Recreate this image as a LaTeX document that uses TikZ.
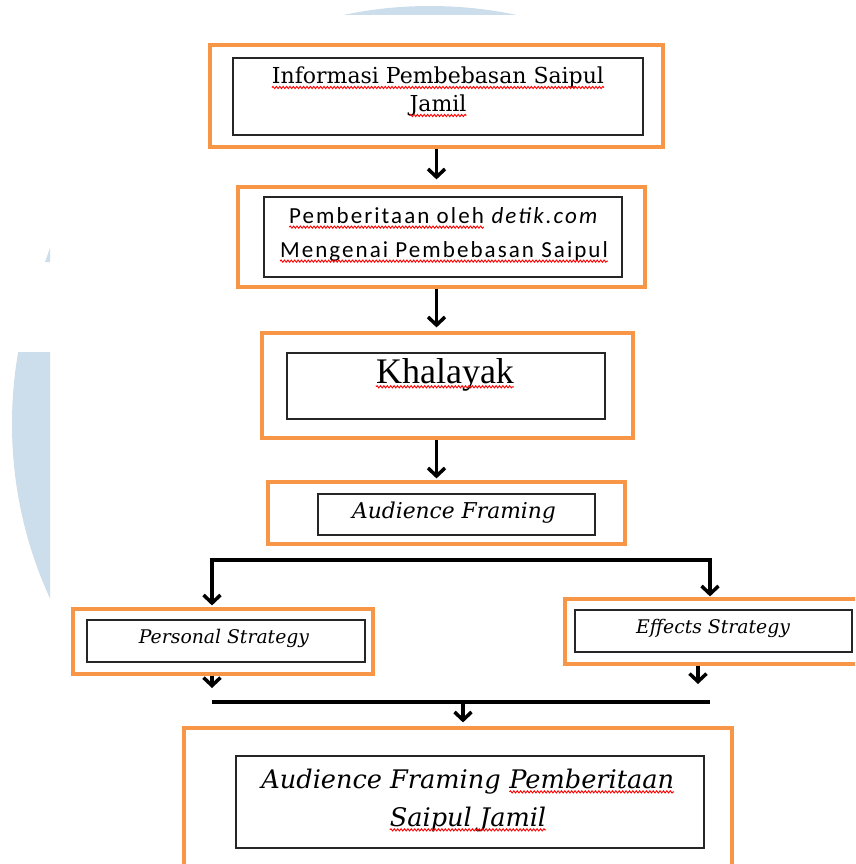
\documentclass[tikz,border=0pt]{standalone}
\usepackage{fontspec}
\usetikzlibrary{arrows.meta,decorations.pathmorphing}
\newfontfamily\camb{DejaVu Serif}
\newfontfamily\tms{Liberation Serif}
\newfontfamily\calib[LetterSpace=9]{Carlito}
\definecolor{orng}{HTML}{F79646}
\definecolor{wmark}{HTML}{CCDDEC}
\newcommand\rwave[1]{\tikz[baseline=(w.base)]{\node[inner sep=0pt,outer sep=0pt,draw=none](w){#1};
  \draw[red,line width=0.9pt,decorate,decoration={snake,amplitude=1.1pt,segment length=3.4pt}]
   ([yshift=-3.8pt]w.base west) -- ([yshift=-3.8pt]w.base east);}}
\begin{document}
\begin{tikzpicture}[x=1pt,y=-1pt,
  obox/.style={draw=orng,line width=3.2pt,inner sep=0pt},
  ibox/.style={draw=black!85,line width=1.8pt,inner sep=0pt},
  ln/.style={line width=3.5pt},
  arr/.style={line width=3.5pt,-{Straight Barb[length=8pt,width=17pt]}},
  dblarr/.style={line width=3.5pt,{Straight Barb[length=8pt,width=17pt]}-{Straight Barb[length=8pt,width=17pt]}}]
\fill[white] (0,0) rectangle (855,864);
\useasboundingbox (0,0) rectangle (855,864);
\clip (0,0) rectangle (855,864);
% watermark
\begin{scope}
  \clip (0,0) rectangle (855,15) (0,352) rectangle (50,603);
  \fill[wmark] (430,424) circle[radius=418pt];
\end{scope}
\fill[wmark] (45,262) -- (50,248) -- (50,262) -- cycle;

% box 1
\node[obox,minimum width=453pt,minimum height=102pt] (o1) at (436.5,96) {};
\node[ibox,minimum width=410pt,minimum height=77pt] (i1) at (438,96.5) {};
\node[font=\camb\fontsize{22}{28}\selectfont,align=center] (t1) at (438,92)
  {\rwave{Informasi Pembebasan Saipul}\\\rwave{Jamil}};

% box 2
\node[obox,minimum width=407pt,minimum height=100pt] (o2) at (441.5,237) {};
\node[ibox,minimum width=358pt,minimum height=80pt] (i2) at (443,237) {};
\node[font=\calib\fontsize{23}{34}\selectfont,align=center] (t2) at (444,235)
  {\rwave{Pemberitaan oleh} \textit{detik.com}\\\rwave{Mengenai Pembebasan Saipul}};

% box 3
\node[obox,minimum width=371pt,minimum height=105pt] (o3) at (447.5,385.5) {};
\node[ibox,minimum width=318pt,minimum height=66pt] (i3) at (446,386) {};
\node[font=\tms\fontsize{36}{40}\selectfont,anchor=base] (t3) at (445,383) {\rwave{Khalayak}};

% box 4
\node[obox,minimum width=357pt,minimum height=62pt] (o4) at (446.5,513) {};
\node[ibox,minimum width=277pt,minimum height=41pt] (i4) at (456.5,514.5) {};
\node[font=\camb\itshape\fontsize{21.8}{24}\selectfont,anchor=base] (t4) at (454,518) {Audience Framing};

% box 5
\node[obox,minimum width=300pt,minimum height=65pt] (o5) at (223,641.5) {};
\node[ibox,minimum width=278pt,minimum height=42pt] (i5) at (226,641) {};
\node[font=\camb\itshape\fontsize{18.8}{20}\selectfont,anchor=base] (t5) at (224,643) {Personal Strategy};

% box 6
\node[obox,minimum width=297pt,minimum height=65pt] (o6) at (713.5,631.5) {};
\node[ibox,minimum width=277pt,minimum height=42pt] (i6) at (713.5,631) {};
\node[font=\camb\itshape\fontsize{18.8}{20}\selectfont,anchor=base] (t6) at (713,633) {Effects Strategy};

% box 7
\node[obox,minimum width=548pt,minimum height=152pt] (o7) at (458,804) {};
\node[ibox,minimum width=468pt,minimum height=92pt] (i7) at (470,802) {};
\node[font=\camb\itshape\fontsize{25.6}{38}\selectfont,align=center] (t7) at (468,800)
  {Audience Framing \rwave{Pemberitaan}\\\rwave{Saipul Jamil}};

% connectors
\draw[arr] (o1.south) -- ([yshift=6pt]o1.south |- o2.north);
\draw[arr] (o1.south |- o2.south) -- ([yshift=4pt]o1.south |- o3.north);
\draw[arr] (o1.south |- o3.south) -- ([yshift=2pt]o1.south |- o4.north);

\coordinate (fl) at (212,560);
\coordinate (fr) at (710,560);
\draw[dblarr] ([yshift=2pt]fl |- o5.north) -- (fl) -- (fr) -- ([yshift=1pt]fr |- o6.north);

\coordinate (ml) at (212,702);
\coordinate (mr) at (710,702);
\coordinate (er) at (698,702);
\coordinate (mm) at (463,702);
\draw[arr] (ml |- o5.south) -- ([yshift=14pt]ml);
\draw[arr] (er |- o6.south) -- ([yshift=18pt]er);
\draw[ln] (ml) -- (mr);
\draw[arr] (mm) -- ([yshift=4pt]mm |- o7.north);
\end{tikzpicture}
\end{document}
